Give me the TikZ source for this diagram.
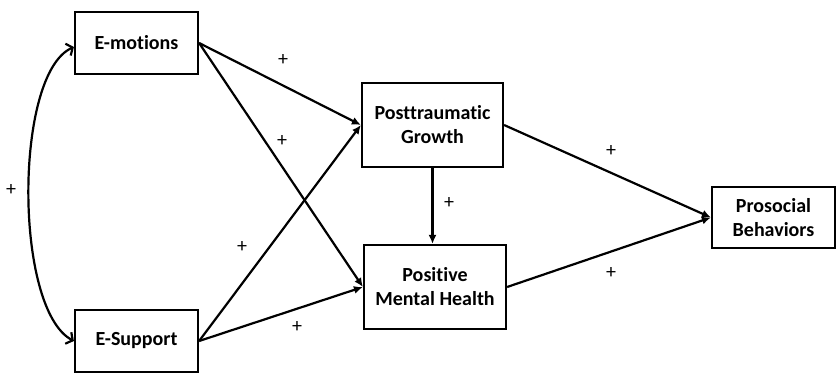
\documentclass[tikz,border=0pt]{standalone}
\usepackage{fontspec}
\setmainfont{Carlito}[Ligatures=NoCommon]
\usetikzlibrary{arrows.meta,positioning}

\begin{document}
\begin{tikzpicture}[
    x=1pt, y=-1pt,
    var/.style={draw, line width=2.2pt, align=center, inner sep=0pt,
        font=\fontsize{20}{24}\selectfont\bfseries},
    path/.style={-{Latex[length=9pt,width=8pt]}, line width=2.2pt},
    sign/.style={font=\fontsize{20}{22}\selectfont}
]
\useasboundingbox (0,0) rectangle (837,372);
\node[var, minimum width=123pt, minimum height=62pt] (emo) at (136.5,43) {E-motions};
\node[var, minimum width=123pt, minimum height=62pt] (sup) at (136.5,341) {E-Support};
\node[var, minimum width=141pt, minimum height=84pt] (ptg) at (432.5,125) {Posttraumatic\\Growth};
\node[var, minimum width=142pt, minimum height=84pt] (pmh) at (435,287) {Positive\\Mental Health};
\node[var, minimum width=123pt, minimum height=61pt] (pro) at (773.5,217.5) {Prosocial\\Behaviors};

\draw[{Straight Barb[length=5pt,width=13pt]}-{Straight Barb[length=5pt,width=13pt]}, line width=2.2pt]
    ([yshift=-4pt]emo.west) .. controls +(-60,27) and +(-60,-32) .. (sup.west);
\draw[path] (emo.east) -- (ptg.west);
\draw[path] (emo.east) -- (pmh.west);
\draw[path] (sup.east) -- (ptg.west);
\draw[path] (sup.east) -- (pmh.west);
\draw[path] (ptg.south) -- (ptg.south |- pmh.north);
\draw[path] (ptg.east) -- (pro.west);
\draw[path] (pmh.east) -- (pro.west);

\foreach \x/\y [count=\i] in {11/190, 283/60, 282/141, 242/247, 297/327, 449/203, 611/151, 611/273} {
    \node[sign] (s\i) at (\x,\y) {+};
}
\end{tikzpicture}
\end{document}
